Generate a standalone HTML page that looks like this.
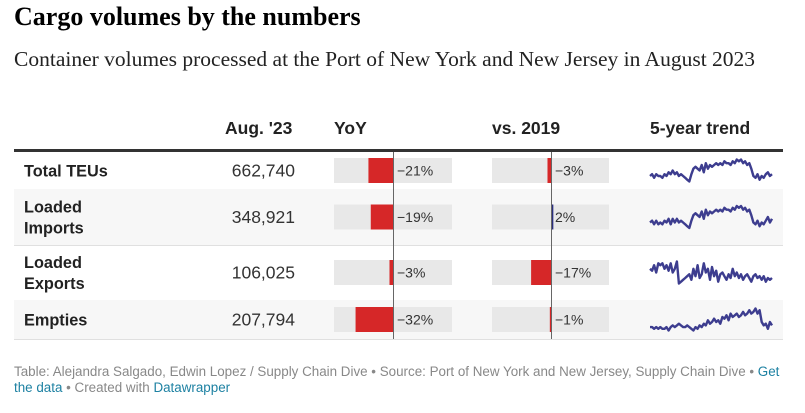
<!DOCTYPE html>
<html><head><meta charset="utf-8"><style>
body{margin:0;width:805px;height:413px;background:#fff;position:relative;font-family:"Liberation Sans",sans-serif;overflow:hidden}
.a{position:absolute;white-space:nowrap}
.t{left:14px;top:2px;font:bold 26px "Liberation Serif",serif;color:#000}
.s{left:14px;top:47px;font:21.5px "Liberation Serif",serif;color:#222}
.h{top:118px;font-weight:bold;font-size:17.5px;color:#222}
.f{left:14px;font-size:13.4px;color:#888}
.f a{color:#1d81a2;text-decoration:none}
</style></head><body>
<div class="a t">Cargo volumes by the numbers</div>
<div class="a s">Container volumes processed at the Port of New York and New Jersey in August 2023</div>
<div class="a h" style="left:225px">Aug. '23</div>
<div class="a h" style="left:334px">YoY</div>
<div class="a h" style="left:492px">vs. 2019</div>
<div class="a h" style="left:650px">5-year trend</div>
<svg id="tbl" class="a" style="left:0;top:0" width="805" height="413"></svg>
<div class="a f" style="top:364px">Table: Alejandra Salgado, Edwin Lopez / Supply Chain Dive • Source: Port of New York and New Jersey, Supply Chain Dive • <a href="#">Get</a></div>
<div class="a f" style="top:380px"><a href="#">the data</a> • Created with <a href="#">Datawrapper</a></div>
<script>
const names=[["Total TEUs"],["Loaded","Imports"],["Loaded","Exports"],["Empties"]];
const values=["662,740","348,921","106,025","207,794"];
const yoy=[-21,-19,-3,-32];
const vs2019=[-3,2,-17,-1];
const trendTotal=[3,4,2,4,3,3,2,4,3,5,4,6,4,5,3,4,3,2,1,0,4,7,8,7,6,9,5,10,7,9,8,9,10,9,10,9,11,10,10,9,11,10,12,11,12,10,11,9,10,7,3,2,4,1,3,2,4,5,3,4];
const trendImports=[3,4,2,4,2,3,2,4,3,5,2,5,3,5,3,4,3,2,1,0,4,7,8,7,6,9,5,10,7,9,8,9,10,9,10,9,11,10,10,9,11,10,12,11,12,10,11,9,10,7,3,2,4,1,3,2,4,6,3,5];
const trendExports=[9,8,11,7,12,11,12,9,11,8,12,7,9,13,1,2,3,4,5,6,3,9,5,11,4,6,12,7,9,3,10,5,8,2,6,7,5,3,6,4,9,5,7,4,6,3,5,6,4,2,5,6,4,5,3,5,2,4,3,4];
const trendEmpties=[2,2,1,2,1,2,1,1,2,0,2,3,2,3,4,3,2,2,3,2,1,0,2,1,3,2,4,3,6,4,5,7,5,6,4,8,7,9,6,10,8,9,10,8,9,11,9,10,12,10,11,13,10,12,5,3,4,1,5,3];
const trends=[trendTotal,trendImports,trendExports,trendEmpties];
const NS="http://www.w3.org/2000/svg",svg=document.getElementById('tbl');
function mk(t,a){const e=document.createElementNS(NS,t);for(const k in a)e.setAttribute(k,a[k]);svg.appendChild(e);return e;}
const rows=[[152,189],[189,245],[245,300],[300,339]];
const px=1.17;
rows.forEach((r,i)=>{
 const [y0,y1]=r,cy=(y0+y1)/2;
 if(i%2){let bg=mk('rect',{x:14,y:y0,width:769,height:y1-y0,fill:'#f7f7f7'});}
 let ln=mk('line',{x1:14,x2:783,y1:y1+0.5,y2:y1+0.5,stroke:'#e0e0e0'});
 const nm=names[i];
 nm.forEach((w,j)=>{let t=mk('text',{x:24,y:cy+6+(j-(nm.length-1)/2)*21,'font-size':16.3,'font-weight':'bold',fill:'#222','font-family':'Liberation Sans'});t.textContent=w;});
 let v=mk('text',{x:295,y:cy+6,'font-size':17.5,fill:'#333','text-anchor':'end','font-family':'Liberation Sans'});v.textContent=values[i];
 [[334,452,393,yoy[i],'yoy'],[492,609,551,vs2019[i],'vs2019']].forEach(([bx0,bx1,z,val,nmk])=>{
  let bg=mk('rect',{x:bx0,y:cy-12.5,width:bx1-bx0,height:25,fill:'#e8e8e8'});
  const w=Math.abs(val)*px;
  let b=mk('rect',{x:val<0?z-w:z,y:cy-12.5,width:Math.max(w,1.5),height:25,fill:val<0?'#d62728':'#2b2f7e'});
  let t=mk('text',{x:z+4,y:cy+5,'font-size':14,fill:'#333','font-family':'Liberation Sans'});t.textContent=(val<0?'\u2212':'')+Math.abs(val)+'%';
 });
 const d=trends[i],mx=Math.max(...d),mn=Math.min(...d);
 const pts=d.map((v,k)=>(650+k*(772-650)/(d.length-1)).toFixed(1)+','+(cy+11-(v-mn)/(mx-mn)*22).toFixed(1)).join(' ');
 let pl=mk('polyline',{points:pts,fill:'none',stroke:'#3d3d8f','stroke-width':2.4,'stroke-linejoin':'round'});
});
[393,551].forEach(x=>{let l=mk('line',{x1:x+0.5,x2:x+0.5,y1:152,y2:339,stroke:'#666'});});
let hl=mk('rect',{x:14,y:149,width:769,height:3,fill:'#333'});
</script>
</body></html>
